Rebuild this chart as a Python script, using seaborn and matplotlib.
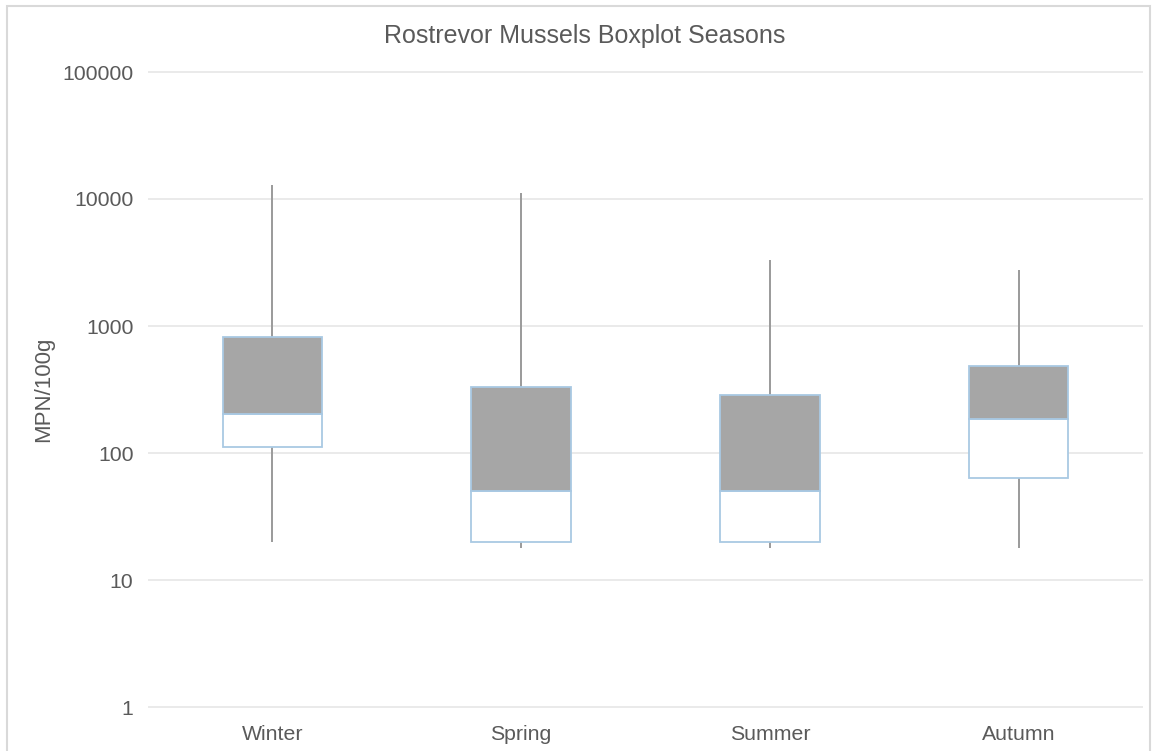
import numpy as np
import pandas as pd
import matplotlib
matplotlib.use("Agg")
import matplotlib.pyplot as plt
import seaborn as sns
from matplotlib.patches import Rectangle

# Seasonal E. coli summary statistics (MPN/100g)
seasons = ["Winter", "Spring", "Summer", "Autumn"]
minimum = [20, 18, 18, 18]
q1 = [111, 20, 20, 63]
median = [203, 50, 50, 185]
q3 = [819, 331, 286, 484]
maximum = [12900, 11100, 3300, 2760]
ytick_values = [1, 10, 100, 1000, 10000, 100000]

stats = pd.DataFrame({"season": seasons, "min": minimum, "q1": q1,
                      "median": median, "q3": q3, "max": maximum})

sns.set_theme(style="white")
plt.rcParams["font.family"] = ["Liberation Sans", "DejaVu Sans"]

text_color = "#5a5a5a"
grid_color = "#e6e6e6"
box_edge = "#a9c9e3"
box_fill = "#a6a6a6"
whisker_color = "#9a9a9a"

fig = plt.figure(figsize=(11.53, 7.51), dpi=100)
W, H = 1153, 751
# axes spans the gridline extent (x 148..1143), decades 127 px apart
y_lo, y_hi = -0.1, 5.1
px_per_dec = 127
top_px = 72 - (y_hi - 5) * px_per_dec
bot_px = 707 + (0 - y_lo) * px_per_dec
ax = fig.add_axes([148 / W, 1 - bot_px / H, (1143 - 148) / W, (bot_px - top_px) / H])

ax.set_yscale("log")
ax.set_ylim(10 ** y_lo, 10 ** y_hi)
x = np.arange(len(stats))
ax.set_xlim(-0.5, len(stats) - 0.5)

# whiskers from min to max, behind the boxes
ax.vlines(x, stats["min"], stats["max"], color=whisker_color, lw=1.4, zorder=2)

width = 0.4
# lower half: Q1 to median
ax.bar(x, stats["median"] - stats["q1"], bottom=stats["q1"], width=width,
       color="white", edgecolor=box_edge, linewidth=1.3, zorder=3)
# upper half: median to Q3
ax.bar(x, stats["q3"] - stats["median"], bottom=stats["median"], width=width,
       color=box_fill, edgecolor=box_edge, linewidth=1.3, zorder=3)

ax.set_yticks(ytick_values)
ax.set_yticklabels([str(v) for v in ytick_values])
ax.yaxis.set_minor_locator(matplotlib.ticker.NullLocator())
ax.set_xticks(x)
ax.set_xticklabels(stats["season"])
ax.grid(axis="y", color=grid_color, lw=1.2, zorder=0)
ax.grid(axis="x", visible=False)
for s in ax.spines.values():
    s.set_visible(False)
ax.tick_params(axis="y", length=0, pad=10.5, labelsize=15.3, labelcolor=text_color)
ax.tick_params(axis="x", length=0, pad=4, labelsize=15.3, labelcolor=text_color)

ax.set_ylabel("MPN/100g", fontsize=16, color=text_color, labelpad=6)
fig.text(585 / W, 1 - 36 / H, "Rostrevor Mussels Boxplot Seasons",
         ha="center", va="center", fontsize=18, color=text_color)

# light outer frame
fig.patches.append(Rectangle((7 / W, -0.05), (1150 - 7) / W, 1.05 - 6 / H,
                             transform=fig.transFigure, fill=False,
                             edgecolor="#d9d9d9", lw=1.5))

fig.savefig("out.png", dpi=100)
